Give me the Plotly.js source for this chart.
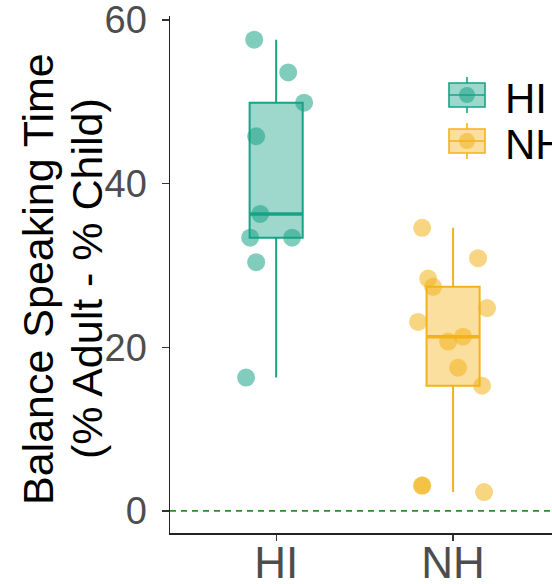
<!DOCTYPE html>
<html>
<head>
<meta charset="utf-8">
<script src="https://cdn.plot.ly/plotly-3.0.1.min.js"></script>
<style>html,body{margin:0;padding:0;overflow:hidden;background:#fff;}</style>
</head>
<body>
<div id="chart" style="width:552px;height:584px;"></div>
<script>
// ---- data ----
const groups = ["HI", "NH"];
const hiValues = [57.6, 53.6, 49.9, 45.8, 36.3, 33.4, 33.4, 30.4, 16.3];
const hiJitter = [-0.124, 0.068, 0.158, -0.113, -0.090, -0.147, 0.090, -0.113, -0.170];
const nhValues = [34.6, 30.9, 28.4, 27.4, 24.8, 23.1, 20.7, 21.3, 17.5, 15.3, 3.1, 3.1, 2.3];
const nhJitter = [-0.175, 0.141, -0.141, -0.113, 0.192, -0.198, -0.028, 0.056, 0.028, 0.164, -0.175, -0.175, 0.175];
const referenceLine = 0;
const yTitleLines = ["Balance Speaking Time", "(% Adult - % Child)"];

const colors = {HI: "#17A386", NH: "#F3B21A"};
const fills = {HI: "rgba(23,163,134,0.42)", NH: "rgba(243,178,26,0.42)"};
const pointFills = {HI: "rgba(23,163,134,0.55)", NH: "rgba(243,178,26,0.55)"};
const boxWidth = 0.3;

function median(arr) {
  const s = arr.slice().sort((a, b) => a - b);
  const n = s.length;
  return n % 2 ? s[(n - 1) / 2] : (s[n / 2 - 1] + s[n / 2]) / 2;
}

const series = [
  {name: "HI", values: hiValues, jitter: hiJitter, pos: 0},
  {name: "NH", values: nhValues, jitter: nhJitter, pos: 1}
];

const traces = [];
series.forEach(s => {
  traces.push({
    type: "box",
    name: s.name,
    y: s.values,
    x0: s.pos,
    width: boxWidth,
    boxpoints: false,
    quartilemethod: "inclusive",
    fillcolor: fills[s.name],
    line: {color: colors[s.name], width: 2},
    whiskerwidth: 0,
    showlegend: false,
    hoverinfo: "y"
  });
});
series.forEach(s => {
  const m = median(s.values);
  traces.push({
    type: "scatter", mode: "lines",
    x: [s.pos - boxWidth / 2, s.pos + boxWidth / 2],
    y: [m, m],
    line: {color: colors[s.name], width: 3.5},
    showlegend: false, hoverinfo: "skip"
  });
  traces.push({
    type: "scatter", mode: "markers",
    x: s.values.map((v, i) => s.pos + s.jitter[i]),
    y: s.values,
    marker: {size: 18, color: pointFills[s.name], line: {width: 0}},
    showlegend: false, hoverinfo: "y"
  });
});

// ---- layout geometry (pixels) ----
const W = 552, H = 584, ML = 170, MR = 0, MT = 16, MB = 51;
const PW = W - ML - MR, PH = H - MT - MB;
const px = x => (x - ML) / PW;
const py = y => (H - MB - y) / PH;

// manual legend (ggplot-style keys)
const shapes = [{
  type: "line", xref: "paper", x0: 0, x1: 1, yref: "y", y0: referenceLine, y1: referenceLine,
  line: {color: "#2E8B2E", width: 1.6, dash: "6px,5px"}, layer: "below"
}];
const annotations = [];
const legendRows = [{name: "HI", cy: 95}, {name: "NH", cy: 141}];
legendRows.forEach(r => {
  const c = colors[r.name];
  const xl = 449, xr = 485, xc = 467, cy = r.cy;
  shapes.push({type: "line", xref: "paper", yref: "paper", x0: px(xc), x1: px(xc), y0: py(cy - 18), y1: py(cy + 18), line: {color: c, width: 1.6}});
  shapes.push({type: "rect", xref: "paper", yref: "paper", x0: px(xl), x1: px(xr), y0: py(cy - 12), y1: py(cy + 12), fillcolor: "#fff", line: {width: 0}});
  shapes.push({type: "rect", xref: "paper", yref: "paper", x0: px(xl), x1: px(xr), y0: py(cy - 12), y1: py(cy + 12), fillcolor: fills[r.name], line: {color: c, width: 1.6}});
  shapes.push({type: "line", xref: "paper", yref: "paper", x0: px(xl), x1: px(xr), y0: py(cy), y1: py(cy), line: {color: c, width: 1.6}});
  shapes.push({type: "circle", xref: "paper", yref: "paper", x0: px(xc - 8), x1: px(xc + 8), y0: py(cy - 8), y1: py(cy + 8), fillcolor: pointFills[r.name], line: {width: 0}});
  annotations.push({xref: "paper", yref: "paper", x: px(503), y: py(cy + 3), xanchor: "left", yanchor: "middle",
    text: r.name, showarrow: false, font: {size: 42, color: "#000"}});
});
// y-axis title, two lines
annotations.push({xref: "paper", yref: "paper", x: px(38), y: py(279), xanchor: "center", yanchor: "middle",
  text: yTitleLines[0], textangle: -90, showarrow: false, font: {size: 43, color: "#000"}});
annotations.push({xref: "paper", yref: "paper", x: px(87), y: py(279), xanchor: "center", yanchor: "middle",
  text: yTitleLines[1], textangle: -90, showarrow: false, font: {size: 43, color: "#000"}});

const layout = {
  width: W, height: H,
  margin: {l: ML, r: MR, t: MT, b: MB},
  paper_bgcolor: "#fff", plot_bgcolor: "#fff",
  font: {family: "Liberation Sans, Arial, sans-serif"},
  showlegend: false,
  xaxis: {
    range: [-0.6, 1.559],
    tickvals: [0, 1], ticktext: groups,
    showgrid: false, zeroline: false,
    showline: true, linecolor: "#222", linewidth: 1.5,
    ticks: "outside", ticklen: 6, tickcolor: "#333", tickwidth: 1.2,
    tickfont: {size: 44, color: "#4d4d4d"},
    ticklabelstandoff: -15, ticklabeloverflow: "allow"
  },
  yaxis: {
    range: [-2.7, 60.5],
    tickvals: [0, 20, 40, 60],
    showgrid: false, zeroline: false,
    showline: true, linecolor: "#222", linewidth: 1.5,
    ticks: "outside", ticklen: 7, tickcolor: "#333", tickwidth: 1.2,
    tickfont: {size: 38, color: "#4d4d4d"},
    ticklabelstandoff: 7, ticklabeloverflow: "allow"
  },
  shapes: shapes,
  annotations: annotations
};

Plotly.newPlot("chart", traces, layout, {displayModeBar: false, staticPlot: true});
</script>
</body>
</html>
